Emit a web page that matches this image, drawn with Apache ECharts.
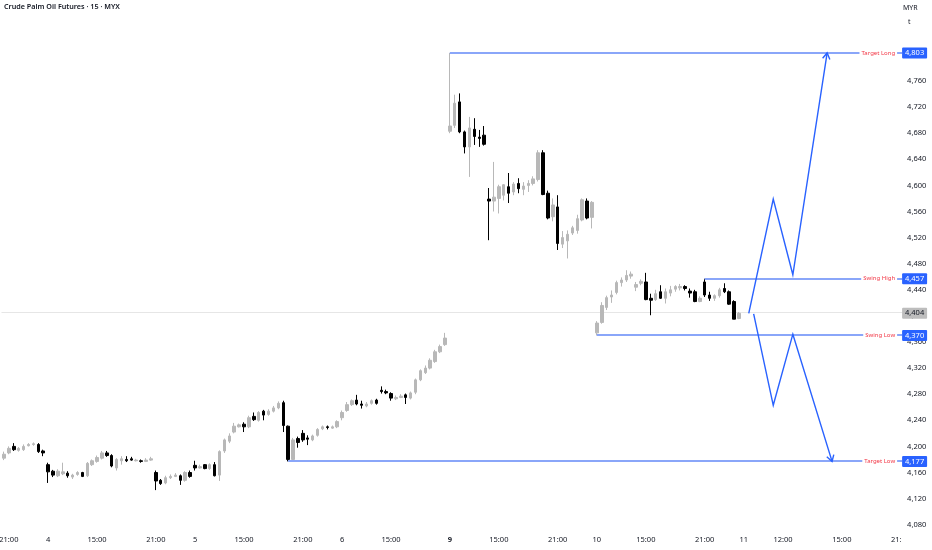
<!DOCTYPE html>
<html><head><meta charset="utf-8">
<script src="https://cdn.jsdelivr.net/npm/echarts@6/dist/echarts.min.js"></script>
<style>html,body{margin:0;padding:0;background:#fff}#c{width:932px;height:550px}</style>
</head><body><div id="c"></div>
<script>
const chartTitle = 'Crude Palm Oil Futures · 15 · MYX';
const currencyText = 'MYR';
const unitText = 't';
const barCount = 184;
const xTickIndex = [1, 9, 19, 31, 39, 49, 61, 69, 79, 91, 101, 113, 121, 131, 143, 151, 159, 171, 183];
const xTickText = ['21:00', '4', '15:00', '21:00', '5', '15:00', '21:00', '6', '15:00', '9', '15:00', '21:00', '10', '15:00', '21:00', '11', '12:00', '15:00', '21:00'];
const yTicks = [4080, 4120, 4160, 4200, 4240, 4280, 4320, 4360, 4400, 4440, 4480, 4520, 4560, 4600, 4640, 4680, 4720, 4760];

const opens = [4182,4190,4200,4194,4195,4201,4203,4203,4193,4172,4162,4155,4158,4159,4153,4157,4160,4155,4172,4177,
4182,4190,4186,4167,4178,4180,4181,4178,4178,4177,4179,4160,4148,4144,4152,4154,4155,4148,4160,4171,
4167,4172,4166,4172,4156,4193,4208,4222,4230,4234,4230,4246,4240,4254,4249,4254,4259,4267,4231,4180,
4212,4220,4213,4210,4217,4227,4230,4228,4230,4244,4255,4264,4271,4265,4262,4266,4271,4286,4284,4281,
4273,4275,4279,4274,4283,4302,4313,4320,4330,4345,4356,4683,4692,4728,4682,4659,4686,4674,4677,4579,
4576,4580,4585,4598,4590,4603,4594,4600,4603,4609,4650,4588,4552,4567,4510,4515,4527,4531,4547,4576,
4551,4374,4390,4413,4429,4436,4451,4455,4461,4444,4450,4452,4427,4425,4437,4427,4435,4441,4443,4445,
4438,4437,4422,4452,4432,4427,4431,4442,4437,4422,4396];
const highs = [4192,4200,4205,4199,4203,4205,4206,4205,4195,4175,4164,4165,4175,4162,4158,4162,4161,4176,4180,4186,
4193,4193,4188,4182,4185,4185,4184,4181,4180,4182,4184,4163,4150,4155,4157,4159,4157,4162,4163,4178,
4172,4173,4174,4176,4194,4212,4220,4236,4235,4237,4247,4252,4254,4256,4257,4262,4269,4270,4232,4213,
4215,4225,4217,4218,4228,4232,4232,4232,4240,4255,4268,4272,4279,4270,4268,4272,4273,4292,4287,4283,
4278,4280,4281,4284,4304,4318,4324,4335,4348,4356,4374,4803,4739,4741,4684,4705,4703,4685,4691,4596,
4636,4601,4602,4619,4605,4611,4605,4608,4614,4654,4654,4592,4580,4585,4530,4531,4538,4555,4580,4580,
4576,4392,4421,4431,4439,4454,4459,4470,4468,4452,4456,4466,4434,4440,4447,4442,4446,4447,4449,4447,
4442,4440,4430,4457,4437,4433,4443,4450,4439,4424,4406];
const lows = [4179,4188,4193,4192,4193,4200,4201,4190,4185,4144,4153,4153,4156,4152,4150,4155,4153,4153,4170,4175,
4180,4184,4168,4163,4172,4176,4178,4177,4175,4176,4178,4133,4141,4142,4150,4153,4141,4146,4152,4163,
4166,4165,4164,4154,4147,4190,4205,4220,4229,4222,4228,4239,4238,4240,4247,4252,4257,4222,4177,4178,
4198,4207,4202,4208,4215,4225,4226,4227,4228,4240,4253,4262,4263,4258,4260,4264,4264,4281,4280,4270,
4271,4274,4265,4272,4280,4300,4311,4318,4328,4343,4354,4680,4688,4680,4649,4613,4662,4659,4661,4516,
4560,4557,4577,4573,4585,4588,4585,4590,4600,4606,4585,4548,4545,4501,4504,4488,4524,4526,4545,4548,
4534,4370,4388,4409,4420,4433,4445,4452,4457,4438,4447,4424,4401,4423,4426,4419,4430,4437,4439,4439,
4428,4421,4421,4429,4423,4423,4428,4435,4417,4395,4395];
const closes = [4188,4197,4195,4197,4200,4203,4204,4192,4190,4161,4156,4162,4161,4155,4156,4160,4154,4174,4178,4183,
4190,4186,4170,4180,4181,4178,4179,4179,4177,4179,4181,4147,4143,4152,4154,4156,4148,4160,4154,4167,
4169,4166,4172,4155,4192,4210,4216,4231,4233,4230,4244,4241,4252,4248,4254,4259,4266,4232,4180,4210,
4206,4210,4211,4216,4226,4230,4229,4230,4238,4252,4264,4270,4265,4263,4265,4270,4266,4284,4282,4274,
4275,4277,4275,4282,4302,4316,4320,4332,4345,4353,4366,4691,4726,4682,4659,4688,4675,4672,4663,4576,
4582,4598,4601,4588,4602,4595,4599,4603,4610,4650,4586,4550,4570,4511,4520,4525,4535,4549,4578,4550,
4574,4389,4416,4428,4432,4451,4455,4462,4464,4448,4453,4425,4424,4434,4427,4437,4440,4445,4445,4442,
4435,4422,4427,4432,4427,4431,4440,4437,4418,4395,4404];

const lastPrice = 4404;
const levelNames = ['Target Long', 'Swing High', 'Swing Low', 'Target Low'];
const levelValues = [4803, 4457, 4370, 4177];
const levelStartBar = [91, 143, 121, 58];
const longPathBars = [152, 157, 161, 168];
const longPathValues = [4404, 4579, 4463, 4803];
const shortPathBars = [153, 157, 161, 169];
const shortPathValues = [4403, 4263, 4372, 4177];

const BLUE = '#2962ff';
const LEVEL_BLUE = '#8aa6f9';
const FONT = '"Noto Sans", sans-serif';
const fmt = v => v.toLocaleString('en-US');

const categories = Array.from({length: barCount}, (_, i) => String(i));
const tickMap = new Map(xTickIndex.map((idx, k) => [idx, xTickText[k]]));
const candleData = opens.map((o, i) => [o, closes[i], lows[i], highs[i]]);

const chart = echarts.init(document.getElementById('c'), null, {renderer: 'canvas'});

function renderLevels(params, api) {
  const i = params.dataIndex;
  const p = api.coord([levelStartBar[i], levelValues[i]]);
  const cs = params.coordSys;
  const right = cs.x + cs.width;
  const y = p[1];
  const y0 = Math.round(y) - 1;
  return {type: 'group', children: [
    {type: 'rect', shape: {x: p[0], y: y0, width: right - 1 - p[0], height: 2}, style: {fill: LEVEL_BLUE}},
    {type: 'text', style: {text: levelNames[i], x: right - 6, y: y, align: 'right', verticalAlign: 'middle',
      fill: '#f23645', fontSize: 6, fontFamily: FONT, backgroundColor: '#fff', padding: [1, 2]}},
    {type: 'rect', shape: {x: right - 1, y: y - 5.5, width: 25, height: 11, r: 1}, style: {fill: BLUE}},
    {type: 'text', style: {text: fmt(levelValues[i]), x: right + 11.5, y: y, align: 'center', verticalAlign: 'middle',
      fill: '#fff', fontSize: 7.5, fontFamily: FONT}}
  ]};
}

function renderLast(params, api) {
  const p = api.coord([0, lastPrice]);
  const cs = params.coordSys;
  const right = cs.x + cs.width;
  const y = p[1];
  return {type: 'group', children: [
    {type: 'rect', shape: {x: cs.x, y: Math.round(y) - 1, width: cs.width, height: 1}, style: {fill: '#e6e6e6'}},
    {type: 'rect', shape: {x: right - 1, y: y - 5.5, width: 25, height: 11, r: 1}, style: {fill: '#bdbdbd'}},
    {type: 'text', style: {text: fmt(lastPrice), x: right + 11.5, y: y, align: 'center', verticalAlign: 'middle',
      fill: '#131722', fontSize: 7.5, fontFamily: FONT}}
  ]};
}

function renderPaths(params, api) {
  const bars = params.dataIndex === 0 ? longPathBars : shortPathBars;
  const vals = params.dataIndex === 0 ? longPathValues : shortPathValues;
  const pts = bars.map((b, k) => api.coord([b, vals[k]]));
  const n = pts.length;
  const [x1, y1] = pts[n - 2], [x2, y2] = pts[n - 1];
  const ang = Math.atan2(y2 - y1, x2 - x1);
  const L = 7, a = 0.55;
  const arrow = [
    [x2 - L * Math.cos(ang - a), y2 - L * Math.sin(ang - a)],
    [x2, y2],
    [x2 - L * Math.cos(ang + a), y2 - L * Math.sin(ang + a)]
  ];
  return {type: 'group', children: [
    {type: 'polyline', shape: {points: pts}, style: {stroke: BLUE, lineWidth: 1.4, fill: null}},
    {type: 'polyline', shape: {points: arrow}, style: {stroke: BLUE, lineWidth: 1.4, fill: null}}
  ]};
}

chart.setOption({
  animation: false,
  backgroundColor: '#ffffff',
  grid: {left: 1.5, top: 2.7, width: 901.6, height: 548.1, containLabel: false, outerBoundsMode: 'none'},
  xAxis: {
    type: 'category', data: categories, boundaryGap: true, offset: -18.8,
    axisLine: {show: false}, axisTick: {show: false}, splitLine: {show: false},
    axisLabel: {
      margin: 4, fontSize: 7.5, color: '#131722', fontFamily: FONT, hideOverlap: false,
      interval: (idx) => tickMap.has(idx),
      formatter: (val, idx) => {
        const t = tickMap.get(idx) || '';
        return t === '9' ? '{b|9}' : t;
      },
      rich: {b: {fontWeight: 'bold', fontSize: 7.5, color: '#131722', fontFamily: FONT}}
    }
  },
  yAxis: {
    type: 'value', position: 'right', min: 4040, max: 4880, interval: 40, scale: true,
    axisLine: {show: false}, axisTick: {show: false}, splitLine: {show: false},
    axisLabel: {
      margin: 4, fontSize: 7.5, color: '#131722', fontFamily: FONT, align: 'left',
      formatter: v => yTicks.includes(v) ? fmt(v) : ''
    }
  },
  graphic: [
    {type: 'text', left: 4, top: 3, z: 100, style: {text: chartTitle, fontSize: 7.2, fontWeight: 600, fill: '#131722', fontFamily: FONT}},
    {type: 'text', left: 903, top: 4, z: 100, style: {text: currencyText, fontSize: 7, fill: '#131722', fontFamily: FONT}},
    {type: 'text', left: 908, top: 18, z: 100, style: {text: unitText, fontSize: 7, fill: '#131722', fontFamily: FONT}},
    {type: 'rect', left: 901, top: 533, z: 100, shape: {width: 31, height: 17}, style: {fill: '#ffffff'}}
  ],
  series: [
    {
      type: 'custom', name: 'last', renderItem: renderLast, data: [[0, lastPrice]], clip: false, z: 1, silent: true
    },
    {
      type: 'candlestick', name: 'CPO', data: candleData, barWidth: 3, z: 3,
      itemStyle: {color: '#b8b8b8', color0: '#000000', borderColor: '#b8b8b8', borderColor0: '#000000', borderWidth: 1}
    },
    {
      type: 'custom', name: 'levels', renderItem: renderLevels, clip: false, z: 5, silent: true,
      data: levelValues.map((v, i) => [levelStartBar[i], v])
    },
    {
      type: 'custom', name: 'paths', renderItem: renderPaths, clip: false, z: 6, silent: true,
      data: [[longPathBars[0], longPathValues[0]], [shortPathBars[0], shortPathValues[0]]]
    }
  ]
});
</script>
</body></html>
